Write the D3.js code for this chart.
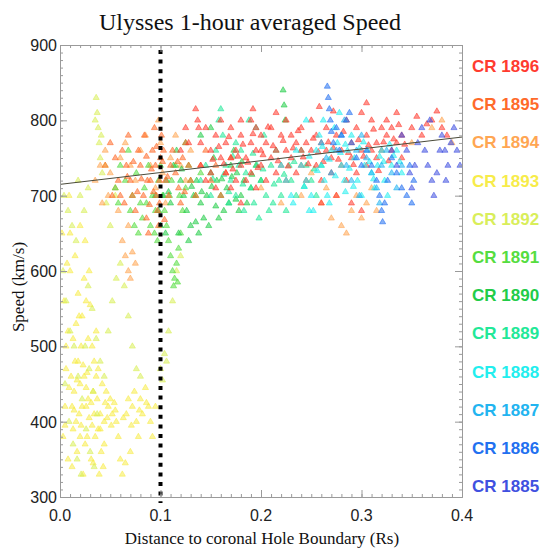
<!DOCTYPE html>
<html><head><meta charset="utf-8">
<script src="https://cdn.jsdelivr.net/npm/d3@7"></script>
<style>body{margin:0;background:#fff}svg{display:block}</style>
</head><body>
<svg id="c" width="543" height="550"></svg>
<script>
const xTicks = [0, 0.1, 0.2, 0.3, 0.4];
const xTickLabels = ["0.0", "0.1", "0.2", "0.3", "0.4"];
const yTicks = [300, 400, 500, 600, 700, 800, 900];
const yTickLabels = ["300", "400", "500", "600", "700", "800", "900"];
const categories = ["CR 1896","CR 1895","CR 1894","CR 1893","CR 1892","CR 1891","CR 1890","CR 1889","CR 1888","CR 1887","CR 1886","CR 1885"];
const colors = ["#ff3b2f","#ff6a2a","#ffa652","#f7ec4a","#d9ee5a","#55dd40","#22cc48","#22e898","#22eeee","#22b4f0","#2270f0","#4050e0"];
const fitIntercept = 715, fitSlope = 157;
const boundaryX = 0.1;

const cr1893 = [[0.003,380],[0.005,420],[0.006,470],[0.008,520],[0.004,560],[0.007,610],[0.010,650],[0.009,700],[0.012,340],[0.013,390],[0.014,440],[0.015,480],[0.016,530],[0.018,570],[0.017,360],[0.019,410],[0.020,450],[0.021,500],[0.022,540],[0.024,590],[0.023,330],[0.025,370],[0.026,420],[0.027,465],[0.028,510],[0.030,555],[0.029,600],[0.031,350],[0.032,395],[0.033,440],[0.034,480],[0.036,520],[0.035,380],[0.037,430],[0.038,470],[0.040,410],[0.041,360],[0.042,450],[0.044,400],[0.045,425],[0.046,440],[0.048,420],[0.050,430],[0.052,410],[0.054,425],[0.056,400],[0.058,380],[0.060,350],[0.062,330],[0.065,345],[0.066,410],[0.068,430],[0.070,360],[0.072,420],[0.074,440],[0.076,400],[0.078,380],[0.080,430],[0.082,410],[0.085,445],[0.088,420],[0.090,400],[0.092,380],[0.095,420],[0.010,600],[0.002,650],[0.015,620],[0.020,660],[0.025,640],[0.006,500],[0.011,460],[0.018,480],[0.022,420],[0.027,380],[0.033,345],[0.039,330],[0.043,340],[0.008,350],[0.012,420],[0.016,400],[0.020,380],[0.024,460],[0.028,430],[0.032,500],[0.036,460],[0.040,390],[0.044,370],[0.013,510],[0.019,540],[0.026,560],[0.005,395],[0.009,445],[0.014,415],[0.017,455],[0.021,395],[0.023,475],[0.026,445],[0.029,405],[0.031,425],[0.034,410],[0.038,390],[0.047,405],[0.051,395],[0.055,415],[0.063,405],[0.071,395],[0.079,415],[0.086,425]];
const cr1892 = [[0.036,830],[0.037,810],[0.038,790],[0.039,770],[0.040,750],[0.042,730],[0.035,800],[0.041,780],[0.004,700],[0.008,680],[0.012,660],[0.016,640],[0.020,700],[0.024,680],[0.003,600],[0.006,560],[0.010,520],[0.014,500],[0.018,460],[0.022,430],[0.026,390],[0.030,360],[0.034,340],[0.028,580],[0.032,550],[0.036,510],[0.040,480],[0.044,460],[0.048,520],[0.052,560],[0.056,590],[0.060,610],[0.064,580],[0.068,540],[0.072,500],[0.076,470],[0.080,460],[0.005,450],[0.009,400],[0.013,370],[0.017,350],[0.021,330],[0.025,500],[0.029,470],[0.033,440],[0.037,410],[0.100,470],[0.104,490],[0.108,520],[0.112,560],[0.116,600],[0.120,620],[0.102,455],[0.106,480],[0.018,720],[0.028,710],[0.046,690],[0.050,660],[0.055,700],[0.045,740]];
const cr1894 = [[0.035,720],[0.040,740],[0.045,760],[0.050,730],[0.055,710],[0.060,750],[0.065,770],[0.070,740],[0.075,720],[0.080,760],[0.085,780],[0.090,740],[0.095,710],[0.098,800],[0.100,770],[0.102,730],[0.105,690],[0.110,750],[0.115,780],[0.120,740],[0.125,720],[0.130,760],[0.062,640],[0.065,620],[0.068,600],[0.070,590],[0.072,625],[0.075,610],[0.068,660],[0.058,680],[0.048,700],[0.042,690],[0.260,690],[0.270,670],[0.280,660],[0.285,650],[0.290,680],[0.295,700],[0.300,670],[0.305,690],[0.310,710],[0.315,680],[0.275,700],[0.265,710],[0.250,730],[0.200,710],[0.220,690],[0.240,700],[0.350,770],[0.370,790],[0.380,800],[0.390,770]];
const cr1895 = [[0.045,740],[0.050,770],[0.055,750],[0.058,720],[0.062,760],[0.066,740],[0.070,720],[0.072,700],[0.075,680],[0.078,760],[0.080,740],[0.083,700],[0.086,670],[0.088,650],[0.090,720],[0.092,760],[0.094,790],[0.095,740],[0.096,700],[0.097,680],[0.098,660],[0.099,720],[0.100,750],[0.101,780],[0.103,760],[0.105,720],[0.108,700],[0.110,740],[0.112,760],[0.115,730],[0.118,710],[0.120,690],[0.122,750],[0.125,770],[0.128,740],[0.130,720],[0.135,700],[0.140,740],[0.145,760],[0.150,720],[0.155,740],[0.160,700],[0.165,730],[0.170,750],[0.060,700],[0.064,690],[0.068,780],[0.052,700],[0.084,780],[0.087,720],[0.091,735],[0.093,705],[0.096,765],[0.099,690],[0.102,745],[0.104,668],[0.107,725],[0.089,688],[0.086,752],[0.081,722],[0.077,705],[0.073,745],[0.067,725],[0.117,745],[0.124,705]];
const cr1896 = [[0.135,815],[0.137,800],[0.138,790],[0.120,760],[0.125,790],[0.128,770],[0.140,770],[0.140,740],[0.145,790],[0.145,720],[0.150,760],[0.150,730],[0.155,780],[0.155,710],[0.160,750],[0.160,800],[0.165,770],[0.165,730],[0.170,790],[0.170,750],[0.170,710],[0.175,760],[0.175,720],[0.180,780],[0.180,740],[0.180,800],[0.185,750],[0.185,720],[0.190,770],[0.190,800],[0.190,730],[0.195,760],[0.195,710],[0.195,790],[0.200,740],[0.200,780],[0.200,760],[0.205,720],[0.205,770],[0.210,790],[0.210,750],[0.215,760],[0.215,730],[0.215,810],[0.220,780],[0.220,740],[0.225,760],[0.225,800],[0.225,720],[0.230,750],[0.230,780],[0.235,770],[0.235,730],[0.240,790],[0.240,760],[0.240,740],[0.245,770],[0.245,720],[0.250,760],[0.250,800],[0.255,740],[0.255,780],[0.260,770],[0.260,720],[0.265,760],[0.265,790],[0.270,750],[0.270,730],[0.275,780],[0.275,700],[0.280,760],[0.280,740],[0.285,800],[0.285,720],[0.290,770],[0.290,750],[0.295,790],[0.295,730],[0.300,760],[0.300,810],[0.305,780],[0.305,740],[0.310,800],[0.310,760],[0.315,770],[0.315,750],[0.320,790],[0.320,760],[0.325,780],[0.325,800],[0.330,760],[0.330,790],[0.335,770],[0.335,810],[0.340,780],[0.340,750],[0.350,790],[0.360,780],[0.370,800],[0.380,790],[0.180,690],[0.260,690],[0.290,690],[0.300,680],[0.152,748],[0.158,765],[0.163,742],[0.168,778],[0.172,735],[0.177,752],[0.182,768],[0.187,744],[0.192,782],[0.197,737],[0.202,754],[0.207,791],[0.212,766],[0.217,746],[0.222,773],[0.227,739],[0.232,763],[0.237,786],[0.242,751],[0.247,742],[0.252,776],[0.257,758],[0.262,745],[0.267,771],[0.272,763],[0.277,748],[0.282,785],[0.287,757],[0.292,741],[0.297,774],[0.302,752],[0.307,767],[0.312,788],[0.317,733],[0.322,771],[0.327,746],[0.332,775],[0.337,794],[0.343,768],[0.355,805],[0.365,795],[0.375,812],[0.385,780],[0.192,815],[0.258,818],[0.305,823],[0.272,812]];
const cr1891 = [[0.060,740],[0.065,720],[0.068,760],[0.072,700],[0.076,730],[0.080,690],[0.084,710],[0.088,740],[0.092,700],[0.095,680],[0.098,720],[0.100,740],[0.102,700],[0.104,680],[0.106,660],[0.108,640],[0.110,620],[0.112,600],[0.114,590],[0.116,610],[0.118,630],[0.120,650],[0.113,580],[0.117,585],[0.109,700],[0.111,720],[0.115,740],[0.119,700],[0.122,680],[0.125,710],[0.128,740],[0.130,720],[0.135,700],[0.140,730],[0.070,680],[0.074,660],[0.078,650],[0.082,670],[0.086,690],[0.090,660],[0.094,650],[0.097,640],[0.055,710],[0.058,690]];
const cr1890 = [[0.095,700],[0.098,680],[0.100,660],[0.103,700],[0.106,720],[0.110,690],[0.113,740],[0.116,760],[0.120,720],[0.123,700],[0.126,680],[0.130,660],[0.133,700],[0.136,720],[0.140,690],[0.143,670],[0.146,700],[0.150,730],[0.153,750],[0.156,720],[0.160,700],[0.163,680],[0.166,710],[0.170,740],[0.173,760],[0.176,730],[0.180,700],[0.183,720],[0.186,690],[0.190,710],[0.195,740],[0.200,720],[0.105,650],[0.118,650],[0.128,640],[0.138,650],[0.148,660],[0.158,670],[0.168,690],[0.178,680],[0.140,780],[0.150,790],[0.125,770],[0.222,840],[0.223,820],[0.224,800],[0.108,705],[0.121,735],[0.131,712],[0.141,705],[0.151,712],[0.161,722],[0.171,725],[0.181,745],[0.191,728],[0.135,665],[0.155,686],[0.175,695]];
const cr1889 = [[0.140,720],[0.145,740],[0.150,700],[0.155,760],[0.158,800],[0.160,815],[0.162,780],[0.165,740],[0.170,720],[0.175,700],[0.178,740],[0.180,760],[0.185,730],[0.190,710],[0.193,690],[0.196,740],[0.200,720],[0.205,700],[0.208,680],[0.210,740],[0.215,760],[0.218,720],[0.220,700],[0.225,680],[0.228,740],[0.230,720],[0.235,700],[0.240,760],[0.245,740],[0.250,720],[0.255,700],[0.260,740],[0.168,690],[0.183,680],[0.198,670],[0.212,690],[0.188,800],[0.195,790],[0.203,780],[0.175,770],[0.152,722],[0.163,728],[0.172,752],[0.182,715],[0.192,756],[0.202,735],[0.213,715],[0.223,728],[0.233,745],[0.243,712],[0.253,735],[0.168,705]];
const cr1888 = [[0.220,740],[0.225,720],[0.230,700],[0.235,760],[0.240,740],[0.245,720],[0.250,700],[0.252,680],[0.255,760],[0.258,780],[0.260,740],[0.263,720],[0.266,700],[0.270,760],[0.273,790],[0.276,770],[0.280,740],[0.283,720],[0.286,760],[0.290,780],[0.293,750],[0.296,720],[0.300,700],[0.303,740],[0.306,760],[0.310,730],[0.313,710],[0.316,740],[0.320,760],[0.323,720],[0.326,700],[0.330,740],[0.335,760],[0.340,730],[0.245,800],[0.262,800],[0.278,810],[0.232,690],[0.248,680],[0.268,690],[0.248,752],[0.256,733],[0.261,765],[0.268,748],[0.274,726],[0.279,757],[0.284,768],[0.288,736],[0.292,712],[0.298,763],[0.302,771],[0.308,745],[0.312,722],[0.318,752],[0.322,745],[0.328,768],[0.332,753],[0.338,745],[0.243,712],[0.284,705]];
const cr1887 = [[0.260,770],[0.265,750],[0.270,730],[0.275,760],[0.280,780],[0.285,740],[0.290,720],[0.295,760],[0.300,780],[0.305,750],[0.310,730],[0.315,710],[0.320,740],[0.325,760],[0.330,730],[0.335,710],[0.340,740],[0.283,800],[0.298,700],[0.318,690]];
const cr1886 = [[0.266,845],[0.267,830],[0.268,815],[0.269,800],[0.270,785],[0.272,770],[0.275,790],[0.278,760],[0.280,780],[0.285,800],[0.290,770],[0.295,750],[0.300,740],[0.305,760],[0.310,740],[0.315,720],[0.318,700],[0.320,680],[0.321,665],[0.323,690],[0.326,720],[0.330,750],[0.335,730],[0.340,710],[0.345,700],[0.350,690],[0.352,720],[0.348,740],[0.288,810]];
const cr1885 = [[0.330,760],[0.335,740],[0.340,780],[0.345,760],[0.348,730],[0.350,710],[0.353,740],[0.356,770],[0.360,790],[0.363,760],[0.366,740],[0.370,720],[0.372,700],[0.375,730],[0.378,760],[0.380,780],[0.383,760],[0.386,740],[0.389,770],[0.392,790],[0.395,760],[0.398,740],[0.368,800],[0.384,720]];

const seriesData = {"CR 1896":cr1896,"CR 1895":cr1895,"CR 1894":cr1894,"CR 1893":cr1893,"CR 1892":cr1892,"CR 1891":cr1891,"CR 1890":cr1890,"CR 1889":cr1889,"CR 1888":cr1888,"CR 1887":cr1887,"CR 1886":cr1886,"CR 1885":cr1885};
const drawOrder = ["CR 1893","CR 1892","CR 1894","CR 1891","CR 1890","CR 1889","CR 1895","CR 1896","CR 1888","CR 1887","CR 1886","CR 1885"];

const svg = d3.select("#c");
const L = 60, R = 462, T = 45, B = 497;
const x = d3.scaleLinear().domain([0, 0.4]).range([L, R]);
const y = d3.scaleLinear().domain([300, 900]).range([B, T]);
const color = d3.scaleOrdinal().domain(categories).range(colors);

svg.append("defs").append("clipPath").attr("id","clip")
  .append("rect").attr("x",L).attr("y",T).attr("width",R-L).attr("height",B-T);

const plot = svg.append("g").attr("clip-path","url(#clip)");
const tri = d3.symbol().type(d3.symbolTriangle).size(16);
drawOrder.forEach(name => {
  plot.append("g").selectAll("path").data(seriesData[name]).join("path")
    .attr("transform", d => `translate(${x(d[0])},${y(d[1])})`)
    .attr("d", tri)
    .attr("fill", color(name)).attr("fill-opacity", 0.55)
    .attr("stroke", color(name)).attr("stroke-opacity", 0.7).attr("stroke-width", 0.8);
});

// fit line
plot.append("line")
  .attr("x1", x(0)).attr("y1", y(fitIntercept))
  .attr("x2", x(0.4)).attr("y2", y(fitIntercept + fitSlope*0.4))
  .attr("stroke", "#4a4a3a").attr("stroke-width", 1);

// boundary dotted line
svg.append("line")
  .attr("x1", x(boundaryX)).attr("x2", x(boundaryX))
  .attr("y1", y(900)+5).attr("y2", y(300)+6)
  .attr("stroke", "#000").attr("stroke-width", 4).attr("stroke-dasharray", "4,5.6");

// frame & ticks
const axisCol = "#9a9a9a";
const xMinor = d3.range(0, 0.4001, 0.01);
const yMinor = d3.range(300, 900.1, 10);
function styleAxis(g){ g.select(".domain").attr("stroke", axisCol); g.selectAll(".tick line").attr("stroke", axisCol); g.selectAll("text").remove(); }
svg.append("g").attr("transform",`translate(0,${B})`).call(d3.axisBottom(x).tickValues(xMinor).tickSize(-3).tickSizeOuter(0)).call(styleAxis);
svg.append("g").attr("transform",`translate(0,${B})`).call(d3.axisBottom(x).tickValues(xTicks).tickSize(-7).tickSizeOuter(0)).call(styleAxis);
svg.append("g").attr("transform",`translate(0,${T})`).call(d3.axisTop(x).tickValues(xMinor).tickSize(-3).tickSizeOuter(0)).call(styleAxis);
svg.append("g").attr("transform",`translate(0,${T})`).call(d3.axisTop(x).tickValues(xTicks).tickSize(-7).tickSizeOuter(0)).call(styleAxis);
svg.append("g").attr("transform",`translate(${L},0)`).call(d3.axisLeft(y).tickValues(yMinor).tickSize(-3).tickSizeOuter(0)).call(styleAxis);
svg.append("g").attr("transform",`translate(${L},0)`).call(d3.axisLeft(y).tickValues(yTicks).tickSize(-7).tickSizeOuter(0)).call(styleAxis);
svg.append("g").attr("transform",`translate(${R},0)`).call(d3.axisRight(y).tickValues(yMinor).tickSize(-3).tickSizeOuter(0)).call(styleAxis);
svg.append("g").attr("transform",`translate(${R},0)`).call(d3.axisRight(y).tickValues(yTicks).tickSize(-7).tickSizeOuter(0)).call(styleAxis);

// tick labels
const sans = "'Liberation Sans', Arial, sans-serif";
const serif = "'Liberation Serif', 'Times New Roman', serif";
svg.append("g").selectAll("text").data(xTicks).join("text")
  .attr("x", d => x(d)).attr("y", 521).attr("text-anchor","middle")
  .attr("font-family", sans).attr("font-size", 16).attr("fill","#222")
  .text((d,i) => xTickLabels[i]);
svg.append("g").selectAll("text").data(yTicks).join("text")
  .attr("x", 57).attr("y", d => y(d)+6).attr("text-anchor","end")
  .attr("font-family", sans).attr("font-size", 16).attr("fill","#222")
  .text((d,i) => yTickLabels[i]);

// titles
svg.append("text").attr("x", 250).attr("y", 30).attr("text-anchor","middle")
  .attr("font-family", serif).attr("font-size", 24).attr("fill","#111")
  .text("Ulysses 1-hour averaged Speed");
svg.append("text").attr("x", 262).attr("y", 544).attr("text-anchor","middle")
  .attr("font-family", serif).attr("font-size", 17).attr("fill","#111")
  .text("Distance to coronal Hole Boundary (Rs)");
svg.append("text").attr("transform","translate(24,287) rotate(-90)").attr("text-anchor","middle")
  .attr("font-family", serif).attr("font-size", 17).attr("fill","#111")
  .text("Speed (km/s)");

// legend
svg.append("g").selectAll("text").data(categories).join("text")
  .attr("x", 472).attr("y", (d,i) => 72 + i*38.2)
  .attr("font-family", sans).attr("font-weight","bold").attr("font-size", 17)
  .attr("fill", d => color(d)).text(d => d);
</script>
</body></html>
